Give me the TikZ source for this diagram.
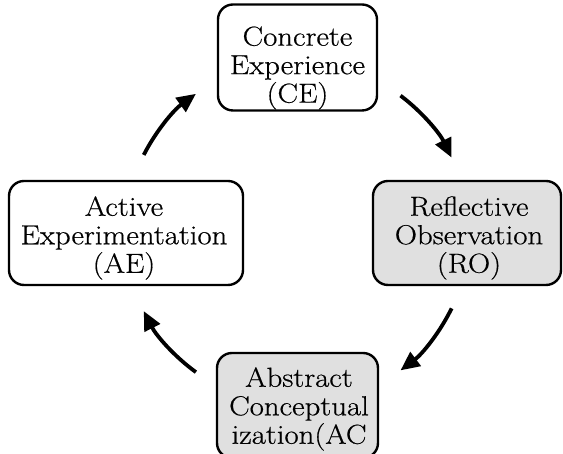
\documentclass[tikz,border=0pt]{standalone}
\usepackage{fontspec}
\setmainfont[FakeStretch=1.12, FakeBold=0.5]{Latin Modern Roman}
\usetikzlibrary{arrows.meta}
\begin{document}
\begin{tikzpicture}[x=1pt,y=1pt,
  stage/.style={draw=black, line width=2.4pt, rounded corners=15pt, inner sep=0pt},
  plain/.style={stage, fill=white},
  shaded/.style={stage, fill=black!12},
  caption/.style={align=center, font=\fontsize{27.5}{28.5}\selectfont, inner sep=0pt},
  turn/.style={line width=3.8pt, -{Triangle[length=19pt,width=17pt]}}]
\useasboundingbox (0,0) rectangle (563,454);
\clip (0,0) rectangle (563,454);
\fill[white] (0,0) rectangle (563,454);

% centre of the learning cycle
\coordinate (hub) at (297,221);

% the four stages
\node[plain,  minimum width=159pt, minimum height=106pt] (ce) at (297.5,396.5) {};
\node[shaded, minimum width=188pt, minimum height=104pt] (ro) at (467,221) {};
\node[shaded, minimum width=161pt, minimum height=105pt] (ac) at (297.5,48.5) {};
\node[plain,  minimum width=234pt, minimum height=104pt] (ae) at (126,221) {};

\node[caption] (ce-text) at (297.5,386) {Concrete\\Experience\\(CE)};
\node[caption] (ro-text) at (469,216) {Reflective\\Observation\\(RO)};
\node[caption] (ac-text) at (299,45) {Abstract\\Conceptual\\ization(AC};
\node[caption] (ae-text) at (124,216) {Active\\Experimentation\\(AE)};

% clockwise arrows between the stages
\draw[turn] ([shift={(53:172)}]hub)   arc[start angle=53,   end angle=26,   radius=172];
\draw[turn] ([shift={(-26:172)}]hub)  arc[start angle=-26,  end angle=-53,  radius=172];
\draw[turn] ([shift={(-126:172)}]hub) arc[start angle=-126, end angle=-153, radius=172];
\draw[turn] ([shift={(153:172)}]hub)  arc[start angle=153,  end angle=126,  radius=172];
\end{tikzpicture}
\end{document}
